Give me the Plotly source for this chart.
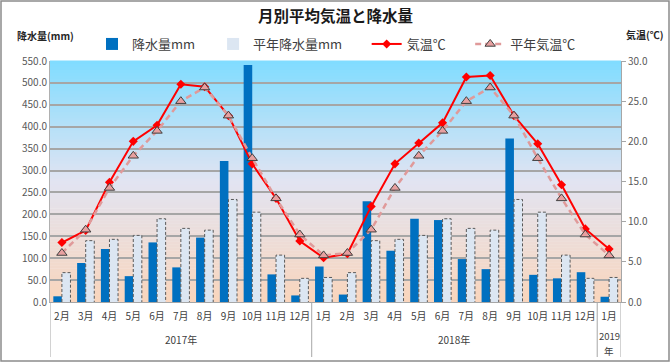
import plotly.graph_objects as go

# ---- data ----
months = ["2月", "3月", "4月", "5月", "6月", "7月", "8月", "9月", "10月", "11月", "12月",
          "1月", "2月", "3月", "4月", "5月", "6月", "7月", "8月", "9月", "10月", "11月", "12月",
          "1月"]
year_labels = ["2017年", "2018年", "2019<br>年"]
year_counts = [11, 12, 1]
precip = [13, 89, 121, 59, 136, 79, 147, 322, 541, 63, 15,
          81, 17, 230, 117, 190, 187, 98, 75, 373, 62, 54, 68, 12]
precip_normal = [67, 140, 143, 152, 190, 168, 164, 234, 205, 107, 54,
                 56, 67, 140, 143, 152, 190, 168, 164, 234, 205, 107, 54, 56]
temp = [7.4, 8.9, 14.9, 20.0, 22.0, 27.1, 26.8, 23.2, 17.2, 12.9, 7.6,
        5.5, 6.0, 11.9, 17.2, 19.8, 22.3, 28.0, 28.2, 23.2, 19.7, 14.6, 9.1, 6.6]
temp_normal = [6.1, 9.0, 14.2, 18.2, 21.3, 25.0, 26.7, 23.2, 17.9, 12.9, 8.4,
               5.8, 6.1, 9.0, 14.2, 18.2, 21.3, 25.0, 26.7, 23.2, 17.9, 12.9, 8.4, 5.8]

FONT = "Noto Sans CJK JP"
n = len(months)
xs = list(range(n))
bargap = 0.28
bw = (1 - bargap) / 2
SP2 = "\u2002\u2002"
SP3 = "\u2002\u2002\u2002"

fig = go.Figure()
fig.add_trace(go.Bar(x=xs, y=precip, name="降水量mm" + SP2,
                     marker=dict(color="#0070c0", line=dict(width=0)), yaxis="y"))
fig.add_trace(go.Bar(x=xs, y=precip_normal, name="平年降水量mm" + SP3,
                     marker=dict(color="#dce6f2", line=dict(width=0)), yaxis="y"))

# dashed outline of the normal-precipitation bars
ox, oy = [], []
for i, v in zip(xs, precip_normal):
    x0, x1 = i, i + bw
    ox += [x0, x0, x1, x1, None]
    oy += [0, v, v, 0, None]
fig.add_trace(go.Scatter(x=ox, y=oy, mode="lines", yaxis="y",
                         line=dict(color="#595959", width=1, dash="3px,2px"),
                         showlegend=False, hoverinfo="skip"))

fig.add_trace(go.Scatter(x=xs, y=temp, name="気温℃" + SP3, yaxis="y2",
                         mode="lines+markers",
                         line=dict(color="#ff0000", width=2),
                         marker=dict(symbol="diamond", size=7, color="#ff0000")))
fig.add_trace(go.Scatter(x=xs, y=temp_normal, name="平年気温℃", yaxis="y2",
                         mode="lines+markers",
                         line=dict(color="#e09a9a", width=2.5, dash="6px,4px"),
                         marker=dict(symbol="triangle-up", size=9, color="#e8a0a0",
                                     line=dict(color="#404040", width=1))))

W, H = 670, 362
L, R, T, B = 50, 49, 61, 60
pw, ph = W - L - R, H - T - B


def py(pix):
    """pixel row (from top of figure) -> paper y"""
    return (T + ph - pix) / ph


# gradient background
top = (128, 220, 255)
mid = (226, 228, 242)
bot = (249, 213, 188)
N = 80
shapes = []
for k in range(N):
    t = (k + 0.5) / N
    if t < 0.5:
        a, b, f = bot, mid, t / 0.5
    else:
        a, b, f = mid, top, (t - 0.5) / 0.5
    c = tuple(int(round(a[j] + (b[j] - a[j]) * f)) for j in range(3))
    shapes.append(dict(type="rect", xref="x domain", yref="y domain",
                       x0=0, x1=1, y0=k / N, y1=(k + 1) / N + 0.002,
                       fillcolor="rgb(%d,%d,%d)" % c, line=dict(width=0), layer="below"))

# year group dividers and labels
annotations = []
start = -0.5
bounds = [start]
for lab, cnt in zip(year_labels, year_counts):
    end = start + cnt
    bounds.append(end)
    cx = (start + end) / 2
    parts = lab.split("<br>")
    if len(parts) == 1:
        annotations.append(dict(text=lab, x=cx, xref="x", yref="paper", y=py(339),
                                yanchor="middle", showarrow=False,
                                font=dict(size=10, color="#404040")))
    else:
        for p, row in zip(parts, [336, 351]):
            annotations.append(dict(text=p, x=cx, xref="x", yref="paper", y=py(row),
                                    yanchor="middle", showarrow=False,
                                    font=dict(size=9.5, color="#404040")))
    start = end
for bx in bounds:
    shapes.append(dict(type="line", xref="x", yref="paper", x0=bx, x1=bx,
                       y0=0, y1=py(357), line=dict(color="#a6a6a6", width=1)))

# outer border
shapes.append(dict(type="rect", xref="paper", yref="paper",
                   x0=-(L - 1) / pw, x1=1 + (R - 1) / pw, y0=py(H - 1), y1=py(1),
                   line=dict(color="#8c8c8c", width=1.5), fillcolor="rgba(0,0,0,0)", layer="above"))

annotations += [
    dict(text="<b>降水量(mm)</b>", xref="paper", yref="paper", x=-(L - 15) / pw, xanchor="left",
         y=py(36), yanchor="middle", showarrow=False,
         font=dict(size=10, color="#262626")),
    dict(text="<b>気温(℃)</b>", xref="paper", yref="paper", x=1 + (R - 4) / pw, xanchor="right",
         y=py(35), yanchor="middle", showarrow=False,
         font=dict(size=10, color="#262626")),
]

fig.update_layout(
    width=W, height=H,
    margin=dict(l=L, r=R, t=T, b=B, autoexpand=False),
    paper_bgcolor="white", plot_bgcolor="rgba(0,0,0,0)",
    font=dict(family=FONT, size=10, color="#404040"),
    barmode="group", bargap=bargap, bargroupgap=0,
    title=dict(text="月別平均気温と降水量", x=0.5, xref="paper", y=1 - 17 / H, yanchor="middle",
               font=dict(family=FONT, size=15.5, color="#1a1a1a", weight="bold")),
    xaxis=dict(range=[-0.5, n - 0.5], showgrid=False, zeroline=False,
               tickmode="array", tickvals=xs, ticktext=months, tickangle=0,
               showline=True, linecolor="#a6a6a6", linewidth=1, ticks="",
               ticklabelstandoff=5,
               tickfont=dict(size=10, color="#404040"), automargin=False),
    yaxis=dict(range=[0, 550], dtick=50, tickformat=".1f", showgrid=True,
               gridcolor="#a6a6a6", gridwidth=1.5, zeroline=False,
               showline=True, linecolor="#b0b0b0", linewidth=1,
               ticks="", tickfont=dict(size=10, color="#595959"), automargin=False),
    yaxis2=dict(range=[0, 30], dtick=5, tickformat=".1f", overlaying="y", side="right",
                showgrid=False, zeroline=False, showline=True, linecolor="#a6a6a6",
                ticks="outside", ticklen=4, tickcolor="#a6a6a6",
                tickfont=dict(size=10, color="#595959"), automargin=False),
    legend=dict(orientation="h", x=92 / W, xanchor="left", xref="container",
                y=1 - 44 / H, yref="container", yanchor="middle",
                font=dict(size=13, color="#404040"), bgcolor="rgba(0,0,0,0)",
                itemwidth=30, traceorder="normal"),
    shapes=shapes,
    annotations=annotations,
    showlegend=True,
)

fig.write_html("out.html", config={"displayModeBar": False},
               post_script="document.body.style.margin='0';")
